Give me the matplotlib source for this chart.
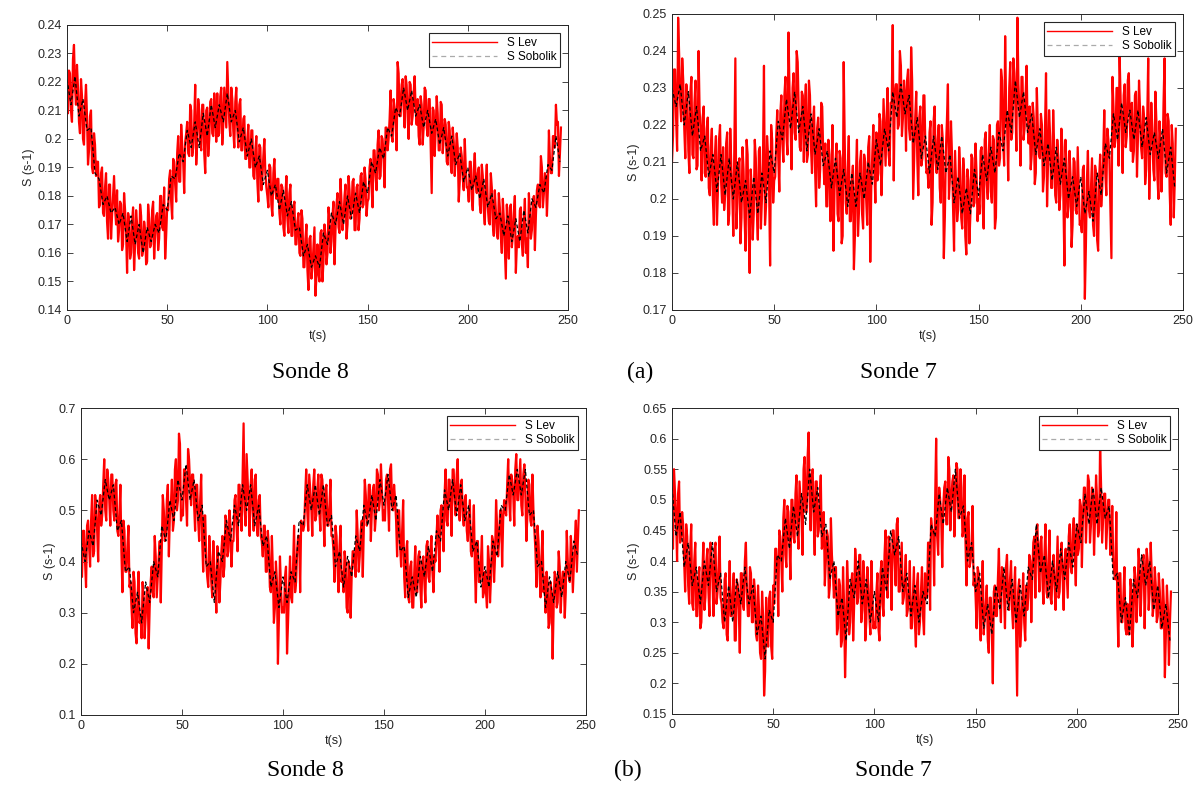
import numpy as np
import matplotlib.pyplot as plt
from matplotlib.ticker import FuncFormatter

# ---- data: time axes (s) ----
t_whole = np.arange(0, 247, 1.0)     # S Lev samples on whole seconds
t_half = np.arange(0.5, 247, 1.0)    # S Lev samples on half seconds
t_sob = np.arange(0, 247, 2)         # S Sobolik samples every 2 s

# (a) Sonde 8 -- S Lev, whole seconds
lev_a8 = [
    .214, .224, .210, .228, .219, .226, .206, .221, .200, .212,
    .208, .196, .210, .188, .198, .192, .176, .188, .174, .183,
    .171, .184, .165, .180, .176, .182, .168, .177, .163, .175,
    .153, .172, .160, .176, .163, .170, .158, .173, .161, .168,
    .157, .172, .163, .178, .166, .174, .165, .180, .168, .158,
    .176, .186, .178, .193, .184, .195, .185, .205, .192, .199,
    .206, .194, .210, .197, .219, .199, .210, .196, .212, .188,
    .211, .200, .214, .201, .209, .216, .202, .218, .205, .211,
    .227, .206, .218, .203, .213, .204, .212, .196, .207, .193,
    .200, .190, .203, .187, .196, .185, .198, .182, .194, .188,
    .180, .191, .177, .188, .182, .186, .174, .184, .169, .180,
    .172, .181, .166, .176, .163, .171, .160, .175, .155, .165,
    .154, .165, .151, .162, .145, .163, .150, .168, .157, .166,
    .160, .172, .164, .178, .168, .181, .167, .178, .172, .184,
    .170, .182, .174, .186, .168, .184, .172, .188, .177, .186,
    .178, .190, .183, .196, .187, .198, .186, .201, .193, .204,
    .196, .207, .201, .214, .205, .227, .208, .219, .211, .222,
    .208, .220, .205, .216, .210, .214, .198, .212, .204, .217,
    .201, .214, .181, .210, .203, .209, .196, .212, .200, .205,
    .191, .203, .188, .199, .194, .197, .185, .194, .182, .190,
    .183, .192, .179, .189, .184, .188, .177, .191, .175, .184,
    .176, .170, .183, .166, .175, .165, .176, .160, .172, .151,
    .168, .176, .162, .174, .153, .166, .175, .163, .170, .160,
    .155, .174, .168, .180, .173, .184, .176, .190, .181, .187,
    .183, .193, .188, .201, .212, .206, .195]
# (a) Sonde 8 -- S Lev, half seconds
lev_a8_h = [
    .209, .223, .206, .233, .212, .218, .202, .215, .198, .219,
    .191, .208, .190, .202, .187, .192, .177, .190, .173, .188,
    .165, .184, .173, .187, .170, .164, .178, .161, .181, .167,
    .174, .158, .171, .154, .175, .160, .177, .159, .171, .156,
    .177, .162, .175, .158, .173, .161, .180, .169, .183, .166,
    .175, .189, .172, .192, .178, .201, .185, .198, .181, .202,
    .195, .212, .194, .206, .191, .214, .199, .212, .195, .210,
    .194, .213, .202, .216, .199, .201, .215, .198, .218, .204,
    .217, .201, .214, .197, .218, .197, .214, .196, .208, .193,
    .205, .190, .203, .186, .201, .178, .197, .186, .200, .183,
    .176, .190, .173, .193, .179, .186, .170, .183, .166, .187,
    .167, .184, .166, .178, .163, .174, .159, .172, .155, .170,
    .147, .166, .155, .169, .152, .153, .167, .150, .170, .156,
    .176, .160, .173, .156, .177, .169, .186, .168, .180, .165,
    .187, .172, .185, .168, .183, .168, .187, .176, .190, .173,
    .179, .193, .176, .196, .182, .203, .187, .200, .183, .204,
    .200, .217, .199, .211, .196, .223, .208, .221, .204, .219,
    .200, .219, .208, .222, .205, .201, .215, .198, .218, .204,
    .214, .198, .211, .194, .215, .196, .213, .195, .207, .192,
    .206, .191, .204, .187, .202, .178, .197, .186, .200, .183,
    .178, .192, .175, .195, .181, .190, .174, .187, .170, .191,
    .171, .188, .170, .182, .167, .181, .166, .179, .162, .177,
    .158, .177, .166, .180, .163, .162, .176, .159, .179, .165,
    .181, .165, .178, .161, .182, .177, .194, .176, .188, .173,
    .203, .188, .201, .197, .205, .187, .204]
sob_a8 = [
    .221, .212, .222, .208, .214, .203, .204, .188, .186, .177,
    .180, .174, .176, .170, .174, .164, .173, .163, .170, .160,
    .169, .164, .170, .167, .177, .175, .187, .186, .195, .192,
    .203, .197, .206, .197, .209, .201, .212, .204, .212, .206,
    .216, .206, .210, .199, .204, .194, .200, .190, .194, .184,
    .189, .180, .184, .175, .182, .173, .178, .168, .169, .159,
    .163, .155, .159, .155, .167, .163, .174, .170, .178, .170,
    .180, .172, .181, .174, .185, .181, .192, .188, .197, .193,
    .204, .201, .211, .208, .218, .210, .217, .208, .212, .204,
    .210, .202, .207, .198, .204, .194, .201, .191, .195, .185,
    .190, .182, .187, .179, .186, .176, .181, .172, .174, .166,
    .173, .164, .172, .164, .175, .167, .179, .176, .184, .181,
    .191, .189, .201, .192]

# (a) Sonde 7
lev_a7 = [
    .210, .235, .222, .249, .226, .238, .219, .231, .213, .229,
    .212, .226, .208, .240, .218, .222, .207, .219, .203, .214,
    .200, .212, .193, .216, .205, .214, .201, .218, .196, .209,
    .190, .238, .199, .211, .195, .208, .186, .212, .180, .203,
    .196, .211, .189, .214, .200, .236, .198, .212, .182, .216,
    .205, .217, .211, .223, .215, .228, .217, .245, .221, .230,
    .218, .240, .224, .213, .228, .225, .210, .232, .214, .221,
    .208, .219, .203, .226, .212, .215, .198, .212, .203, .186,
    .210, .196, .213, .188, .237, .199, .208, .194, .204, .181,
    .207, .190, .210, .196, .212, .200, .214, .183, .212, .208,
    .218, .207, .221, .212, .218, .222, .212, .226, .247, .228,
    .231, .220, .236, .222, .228, .232, .219, .241, .200, .222,
    .211, .222, .209, .228, .213, .208, .218, .193, .221, .210,
    .216, .203, .220, .184, .213, .231, .206, .212, .186, .203,
    .197, .208, .192, .206, .185, .205, .196, .211, .199, .207,
    .200, .213, .198, .216, .204, .212, .202, .217, .192, .220,
    .209, .235, .216, .244, .219, .230, .216, .238, .225, .249,
    .224, .233, .216, .228, .219, .225, .212, .222, .207, .219,
    .211, .220, .206, .234, .210, .217, .203, .214, .199, .211,
    .201, .214, .182, .209, .198, .206, .193, .210, .196, .204,
    .194, .208, .173, .205, .197, .203, .193, .209, .189, .206,
    .198, .212, .207, .219, .211, .184, .225, .216, .230, .239,
    .218, .228, .214, .232, .220, .226, .213, .229, .217, .224,
    .211, .222, .208, .238, .214, .219, .205, .221, .200, .216,
    .210, .238, .206, .221, .193, .215, .205]
lev_a7_h = [
    .217, .235, .213, .239, .221, .232, .211, .228, .207, .233,
    .211, .232, .209, .224, .205, .225, .206, .222, .201, .219,
    .193, .217, .203, .220, .199, .197, .215, .193, .219, .201,
    .213, .192, .209, .188, .214, .195, .216, .193, .208, .189,
    .216, .197, .213, .192, .210, .193, .217, .203, .220, .199,
    .206, .224, .202, .228, .210, .233, .212, .229, .208, .234,
    .216, .237, .214, .229, .210, .231, .212, .228, .207, .225,
    .198, .222, .208, .225, .204, .198, .216, .194, .220, .202,
    .215, .194, .211, .190, .216, .196, .217, .194, .209, .190,
    .216, .197, .213, .192, .210, .193, .217, .203, .220, .199,
    .205, .223, .201, .227, .209, .230, .209, .226, .205, .231,
    .219, .240, .217, .232, .213, .235, .216, .232, .211, .229,
    .201, .225, .211, .228, .207, .203, .221, .199, .225, .207,
    .220, .199, .216, .195, .221, .200, .221, .198, .213, .194,
    .214, .195, .211, .190, .208, .188, .212, .198, .215, .194,
    .196, .214, .192, .218, .200, .220, .199, .216, .195, .221,
    .211, .232, .209, .224, .205, .237, .218, .234, .213, .231,
    .209, .233, .219, .236, .215, .208, .226, .204, .230, .212,
    .223, .202, .219, .198, .224, .203, .224, .201, .216, .197,
    .219, .200, .216, .195, .213, .187, .211, .197, .214, .193,
    .191, .209, .187, .213, .195, .211, .190, .207, .186, .212,
    .203, .224, .201, .216, .197, .233, .214, .230, .209, .227,
    .207, .231, .217, .234, .213, .210, .228, .206, .232, .214,
    .225, .204, .221, .200, .226, .208, .229, .206, .221, .202,
    .226, .207, .223, .202, .220, .195, .219]
sob_a7 = [
    .230, .225, .231, .220, .229, .217, .225, .213, .217, .206,
    .212, .202, .212, .201, .211, .200, .210, .199, .205, .195,
    .206, .196, .207, .199, .213, .207, .221, .216, .227, .219,
    .229, .218, .225, .213, .223, .212, .219, .209, .213, .203,
    .211, .201, .208, .198, .207, .198, .207, .200, .210, .204,
    .216, .209, .219, .213, .229, .222, .231, .223, .228, .215,
    .222, .211, .217, .207, .217, .208, .217, .207, .212, .199,
    .206, .196, .203, .196, .208, .201, .212, .205, .214, .207,
    .218, .213, .224, .218, .232, .222, .229, .218, .223, .212,
    .219, .209, .215, .205, .214, .204, .211, .200, .206, .198,
    .206, .196, .202, .194, .207, .201, .215, .211, .223, .216,
    .226, .218, .224, .216, .224, .214, .222, .212, .218, .211,
    .219, .207, .214, .203]

# (b) Sonde 8
lev_b8 = [
    .37, .46, .40, .47, .43, .48, .41, .53, .46, .51,
    .47, .55, .50, .58, .52, .57, .50, .55, .46, .49,
    .42, .48, .38, .43, .35, .31, .38, .26, .33, .28,
    .25, .33, .29, .35, .31, .39, .33, .41, .37, .44,
    .42, .50, .45, .55, .49, .56, .48, .60, .52, .63,
    .50, .58, .52, .62, .55, .57, .51, .55, .48, .52,
    .44, .49, .40, .35, .41, .33, .39, .30, .40, .36,
    .45, .39, .48, .42, .47, .44, .52, .47, .55, .50,
    .57, .50, .61, .51, .55, .50, .56, .47, .52, .45,
    .41, .47, .38, .43, .34, .38, .31, .36, .29, .35,
    .31, .37, .22, .35, .33, .39, .34, .42, .45, .48,
    .46, .53, .50, .57, .51, .55, .48, .54, .50, .57,
    .49, .54, .47, .51, .45, .42, .47, .39, .43, .36,
    .34, .40, .30, .38, .37, .42, .37, .45, .41, .48,
    .46, .53, .49, .55, .50, .55, .49, .57, .52, .54,
    .50, .56, .52, .58, .51, .55, .48, .50, .43, .46,
    .37, .42, .33, .39, .31, .38, .34, .41, .35, .40,
    .36, .43, .37, .42, .38, .41, .45, .43, .50, .47,
    .53, .48, .56, .51, .58, .52, .57, .50, .55, .49,
    .52, .46, .48, .42, .45, .39, .44, .36, .40, .33,
    .38, .31, .40, .37, .44, .41, .47, .44, .50, .48,
    .50, .55, .52, .57, .53, .58, .52, .56, .51, .57,
    .53, .49, .55, .47, .50, .42, .47, .38, .41, .34,
    .30, .36, .28, .34, .31, .37, .32, .39, .35, .38,
    .34, .40, .36, .42, .39, .48, .44]
lev_b8_h = [
    .37, .46, .35, .48, .39, .53, .42, .51, .40, .53,
    .49, .60, .48, .56, .47, .57, .48, .56, .45, .55,
    .34, .46, .38, .47, .36, .27, .36, .24, .38, .29,
    .36, .25, .34, .23, .36, .34, .45, .33, .41, .32,
    .53, .44, .52, .41, .51, .46, .58, .50, .65, .48,
    .49, .58, .47, .60, .51, .57, .46, .55, .44, .57,
    .38, .49, .37, .45, .36, .44, .35, .43, .32, .42,
    .37, .49, .41, .50, .39, .44, .53, .42, .55, .46,
    .67, .47, .56, .45, .58, .46, .57, .45, .53, .44,
    .47, .38, .46, .35, .45, .28, .40, .20, .41, .30,
    .30, .39, .28, .41, .32, .47, .36, .45, .34, .47,
    .47, .58, .46, .54, .45, .58, .49, .57, .46, .56,
    .43, .55, .47, .56, .45, .36, .45, .34, .47, .38,
    .42, .31, .40, .29, .42, .39, .50, .38, .46, .37,
    .56, .47, .55, .44, .54, .46, .58, .50, .59, .48,
    .48, .57, .46, .59, .50, .52, .41, .50, .39, .52,
    .33, .44, .32, .40, .31, .43, .34, .42, .31, .41,
    .32, .44, .36, .45, .34, .40, .49, .38, .51, .42,
    .58, .47, .56, .45, .58, .49, .60, .48, .56, .47,
    .53, .44, .52, .41, .51, .32, .44, .36, .45, .34,
    .34, .43, .32, .45, .36, .52, .41, .50, .39, .52,
    .49, .60, .48, .56, .47, .61, .52, .60, .49, .59,
    .44, .56, .48, .57, .46, .35, .44, .33, .46, .37,
    .38, .27, .36, .21, .38, .31, .42, .30, .38, .29,
    .46, .37, .45, .34, .44, .38, .50]
sob_b8 = [
    .44, .40, .46, .43, .52, .49, .56, .52, .55, .46,
    .48, .38, .39, .30, .34, .28, .36, .32, .40, .37,
    .47, .44, .52, .48, .56, .52, .59, .52, .56, .48,
    .51, .39, .40, .32, .42, .40, .48, .44, .51, .47,
    .55, .50, .55, .47, .51, .43, .45, .35, .38, .31,
    .37, .32, .38, .36, .48, .47, .55, .50, .55, .49,
    .55, .47, .49, .39, .42, .35, .41, .37, .45, .42,
    .51, .47, .53, .48, .56, .51, .57, .50, .53, .42,
    .43, .33, .37, .33, .41, .37, .43, .38, .46, .44,
    .54, .50, .56, .49, .55, .48, .51, .42, .44, .35,
    .39, .35, .44, .41, .51, .50, .57, .53, .58, .53,
    .58, .49, .50, .39, .40, .31, .37, .32, .38, .33,
    .40, .36, .44, .41]

# (b) Sonde 7
lev_b7 = [
    .44, .55, .47, .51, .43, .48, .40, .46, .36, .42,
    .33, .40, .31, .37, .29, .38, .32, .40, .35, .43,
    .37, .42, .33, .39, .34, .30, .37, .28, .34, .31,
    .35, .27, .37, .32, .38, .33, .40, .35, .31, .38,
    .30, .35, .27, .32, .24, .31, .22, .29, .34, .26,
    .36, .42, .38, .45, .40, .47, .41, .49, .43, .50,
    .44, .51, .45, .53, .47, .55, .48, .57, .50, .54,
    .47, .53, .44, .50, .42, .48, .40, .44, .36, .41,
    .34, .39, .29, .36, .27, .33, .28, .36, .30, .38,
    .33, .39, .34, .41, .32, .37, .30, .36, .28, .34,
    .30, .35, .29, .38, .33, .41, .36, .44, .39, .45,
    .40, .46, .35, .39, .33, .37, .31, .35, .29, .34,
    .30, .36, .28, .35, .31, .38, .34, .43, .47, .45,
    .50, .44, .52, .47, .49, .53, .46, .55, .50, .54,
    .49, .55, .47, .52, .45, .43, .47, .39, .42, .36,
    .34, .39, .31, .35, .28, .33, .27, .34, .29, .35,
    .31, .37, .34, .39, .35, .39, .34, .37, .32, .35,
    .29, .35, .26, .33, .30, .36, .34, .40, .38, .44,
    .45, .40, .43, .37, .41, .35, .40, .34, .39, .36,
    .38, .34, .41, .37, .40, .38, .44, .39, .45, .41,
    .46, .42, .49, .47, .52, .48, .53, .46, .51, .47,
    .50, .45, .52, .47, .51, .46, .50, .42, .40, .37,
    .33, .38, .30, .34, .29, .33, .28, .35, .31, .37,
    .34, .39, .36, .41, .37, .40, .35, .38, .33, .36,
    .31, .35, .29, .33, .28, .32, .30]
lev_b7_h = [
    .42, .51, .40, .53, .44, .46, .35, .44, .33, .46,
    .32, .43, .31, .39, .30, .43, .34, .42, .31, .41,
    .31, .43, .35, .44, .33, .29, .38, .27, .40, .31,
    .38, .27, .36, .25, .38, .32, .43, .31, .39, .30,
    .37, .28, .36, .25, .35, .18, .34, .26, .35, .24,
    .33, .42, .31, .44, .35, .50, .39, .48, .37, .50,
    .43, .54, .42, .50, .41, .57, .48, .61, .45, .55,
    .41, .53, .45, .54, .43, .36, .45, .34, .47, .38,
    .39, .28, .37, .26, .39, .21, .40, .28, .36, .27,
    .42, .33, .41, .30, .40, .27, .39, .31, .40, .29,
    .29, .38, .27, .40, .31, .45, .34, .43, .32, .45,
    .36, .47, .35, .43, .34, .41, .32, .40, .29, .39,
    .26, .38, .30, .39, .28, .34, .43, .32, .45, .36,
    .60, .41, .50, .39, .52, .46, .57, .45, .53, .44,
    .56, .47, .55, .44, .54, .36, .48, .40, .49, .38,
    .29, .38, .27, .40, .31, .36, .25, .34, .20, .36,
    .31, .42, .30, .38, .29, .41, .32, .40, .29, .39,
    .18, .37, .29, .38, .27, .32, .41, .30, .43, .34,
    .46, .35, .44, .33, .46, .34, .45, .33, .41, .32,
    .44, .35, .43, .32, .42, .34, .46, .38, .47, .36,
    .41, .50, .39, .52, .43, .54, .43, .52, .41, .54,
    .44, .59, .43, .51, .42, .50, .41, .49, .38, .48,
    .26, .38, .30, .39, .28, .28, .37, .26, .39, .30,
    .42, .31, .40, .29, .42, .32, .43, .31, .39, .30,
    .38, .29, .37, .21, .36, .23, .35]
sob_b7 = [
    .52, .44, .48, .39, .43, .36, .39, .33, .40, .36,
    .43, .35, .38, .30, .36, .30, .37, .33, .39, .33,
    .36, .28, .31, .24, .32, .30, .41, .40, .47, .42,
    .49, .44, .51, .46, .55, .48, .52, .44, .46, .37,
    .40, .31, .34, .27, .37, .34, .40, .33, .37, .30,
    .35, .30, .39, .35, .45, .41, .44, .35, .38, .31,
    .36, .30, .35, .33, .46, .44, .51, .46, .52, .48,
    .55, .47, .49, .40, .43, .35, .38, .29, .33, .28,
    .36, .32, .39, .32, .37, .30, .36, .31, .39, .37,
    .46, .38, .41, .34, .40, .35, .42, .37, .43, .39,
    .46, .43, .51, .46, .52, .46, .52, .47, .49, .37,
    .38, .30, .34, .28, .37, .34, .41, .36, .40, .32,
    .36, .29, .33, .27]

panels = [
    # axes rect, S Lev (whole s), S Lev (half s), S Sobolik, y limits, y step
    ([0.0558, 0.6096, 0.4175, 0.3590], lev_a8, lev_a8_h, sob_a8, (0.14, 0.24), 0.01),
    ([0.5600, 0.6096, 0.4258, 0.3728], lev_a7, lev_a7_h, sob_a7, (0.17, 0.25), 0.01),
    ([0.0675, 0.0995, 0.4208, 0.3866], lev_b8, lev_b8_h, sob_b8, (0.10, 0.70), 0.1),
    ([0.5600, 0.1008, 0.4217, 0.3853], lev_b7, lev_b7_h, sob_b7, (0.15, 0.65), 0.05),
]

plt.rcParams['font.family'] = 'Liberation Sans'
fig = plt.figure(figsize=(12, 7.94), dpi=100)

gfmt = FuncFormatter(lambda v, p: ('%.2f' % v).rstrip('0').rstrip('.'))
edge = '#262626'

for rect, lev_w, lev_h, sob, ylim, ystep in panels:
    ax = fig.add_axes(rect)
    # merge the whole-second and half-second samples into one time series
    t = np.empty(len(t_whole) * 2)
    t[0::2], t[1::2] = t_whole, t_half
    lev = np.empty_like(t)
    lev[0::2], lev[1::2] = lev_w, lev_h
    ax.plot(t, lev, color='red', lw=1.6, label='S Lev')
    ax.plot(t_sob, sob, color='black', lw=0.9, ls=(0, (3, 2)), label='S Sobolik')
    ax.set_xlim(0, 250)
    ax.set_ylim(*ylim)
    ax.set_xticks(np.arange(0, 251, 50))
    ax.set_yticks(np.arange(ylim[0], ylim[1] + ystep / 2, ystep))
    ax.yaxis.set_major_formatter(gfmt)
    ax.tick_params(direction='in', top=True, right=True, length=4, width=0.6,
                   labelsize=9, colors=edge)
    for s in ax.spines.values():
        s.set_color(edge)
        s.set_linewidth(0.7)
    ax.set_xlabel('t(s)', fontsize=9, color=edge, labelpad=2)
    ax.set_ylabel('S (s-1)', fontsize=9, color=edge, labelpad=2)
    leg = ax.legend(loc='upper right', fontsize=8.5, fancybox=False, framealpha=1,
                    edgecolor=edge, borderpad=0.3, labelspacing=0.2,
                    handlelength=5.5, borderaxespad=0.7)
    leg.get_frame().set_linewidth(0.8)
    leg.legend_handles[0].set_linewidth(1.0)
    leg.legend_handles[1].set_color('#aaaaaa')
    leg.legend_handles[1].set_linestyle((0, (4, 3)))

# captions under each panel
serif = 'Liberation Serif'
for x, y, s in [(310, 372, 'Sonde 8'), (898, 372, 'Sonde 7'), (640, 372, '(a)'),
                (305, 770, 'Sonde 8'), (893, 770, 'Sonde 7'), (628, 770, '(b)')]:
    fig.text(x / 1200, 1 - y / 794, s, family=serif, fontsize=17, ha='center', va='center')

fig.savefig('out.png', dpi=100)
